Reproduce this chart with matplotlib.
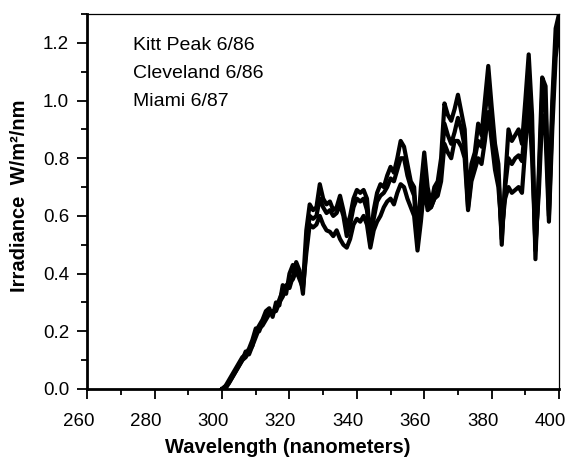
import numpy as np
import matplotlib
matplotlib.use("Agg")
import matplotlib.pyplot as plt
import matplotlib.transforms as mtransforms
from matplotlib.ticker import MultipleLocator

# longueurs d'onde (nm), pas de 1 nm
wl = list(range(300, 401))

kitt_peak = [
    0.00, 0.01, 0.02, 0.04, 0.06, 0.08, 0.10, 0.13, 0.12, 0.15,
    0.20, 0.22, 0.24, 0.27, 0.28, 0.25, 0.30, 0.29, 0.36, 0.33,
    0.40, 0.43, 0.42, 0.40, 0.36, 0.55, 0.64, 0.62, 0.63, 0.71,
    0.66, 0.64, 0.65, 0.62, 0.63, 0.67, 0.62, 0.56, 0.60, 0.66,
    0.69, 0.68, 0.69, 0.66, 0.52, 0.62, 0.68, 0.71, 0.70, 0.74,
    0.77, 0.75, 0.80, 0.86, 0.84, 0.78, 0.72, 0.70, 0.52, 0.70,
    0.82, 0.70, 0.64, 0.70, 0.72, 0.80, 0.99, 0.95, 0.93, 0.97,
    1.02, 0.96, 0.90, 0.65, 0.78, 0.82, 0.92, 0.88, 1.00, 1.12,
    0.98, 0.85, 0.78, 0.50, 0.72, 0.90, 0.86, 0.88, 0.90, 0.85,
    1.00, 1.16, 0.95, 0.45, 0.75, 1.08, 1.05, 0.62, 1.00, 1.25,
    1.30]

cleveland = [
    0.00, 0.01, 0.03, 0.05, 0.07, 0.09, 0.11, 0.12, 0.14, 0.17,
    0.21, 0.20, 0.23, 0.25, 0.27, 0.26, 0.28, 0.31, 0.34, 0.36,
    0.35, 0.39, 0.44, 0.41, 0.33, 0.50, 0.60, 0.59, 0.60, 0.66,
    0.63, 0.61, 0.62, 0.60, 0.61, 0.64, 0.60, 0.53, 0.57, 0.63,
    0.66, 0.65, 0.66, 0.62, 0.50, 0.59, 0.65, 0.67, 0.68, 0.70,
    0.73, 0.72, 0.76, 0.80, 0.80, 0.74, 0.70, 0.67, 0.50, 0.66,
    0.78, 0.66, 0.63, 0.66, 0.69, 0.76, 0.92, 0.88, 0.85, 0.89,
    0.94, 0.90, 0.84, 0.63, 0.74, 0.80, 0.86, 0.84, 0.95, 1.06,
    0.92, 0.80, 0.74, 0.52, 0.70, 0.80, 0.78, 0.80, 0.81, 0.79,
    0.92, 1.08, 0.88, 0.48, 0.72, 1.02, 0.98, 0.60, 0.95, 1.20,
    1.27]

miami = [
    0.00, 0.00, 0.02, 0.04, 0.06, 0.08, 0.10, 0.11, 0.13, 0.15,
    0.18, 0.21, 0.22, 0.24, 0.26, 0.27, 0.27, 0.30, 0.32, 0.35,
    0.37, 0.38, 0.41, 0.38, 0.35, 0.47, 0.57, 0.56, 0.57, 0.60,
    0.57, 0.55, 0.545, 0.53, 0.55, 0.52, 0.50, 0.49, 0.52, 0.57,
    0.59, 0.58, 0.60, 0.57, 0.49, 0.55, 0.58, 0.60, 0.63, 0.65,
    0.66, 0.64, 0.68, 0.71, 0.70, 0.66, 0.63, 0.60, 0.48, 0.58,
    0.70, 0.62, 0.63, 0.66, 0.67, 0.72, 0.85, 0.82, 0.80, 0.86,
    0.86, 0.84, 0.80, 0.62, 0.72, 0.76, 0.80, 0.78, 0.86, 0.96,
    0.86, 0.76, 0.70, 0.55, 0.66, 0.70, 0.68, 0.69, 0.70, 0.68,
    0.84, 1.00, 0.80, 0.50, 0.68, 0.95, 0.88, 0.58, 0.90, 1.15,
    1.25]

labels = ["Kitt Peak 6/86", "Cleveland 6/86", "Miami 6/87"]

plt.rcParams['font.family'] = ['Liberation Sans', 'DejaVu Sans']

fig = plt.figure(figsize=(5.68, 4.61), dpi=100)
ax = fig.add_axes([0.1537, 0.1562, 0.8305, 0.8134])

for serie in (kitt_peak, cleveland, miami):
    ax.plot(wl, serie, color='black', lw=3.0, solid_joinstyle='round')

ax.set_xlim(260, 400)
ax.set_ylim(0, 1.30)
ax.xaxis.set_major_locator(MultipleLocator(20))
ax.xaxis.set_minor_locator(MultipleLocator(10))
ax.yaxis.set_major_locator(MultipleLocator(0.2))
ax.yaxis.set_minor_locator(MultipleLocator(0.1))
ax.yaxis.set_major_formatter(plt.FormatStrFormatter('%.1f'))

ax.tick_params(axis='both', which='major', direction='out', length=7,
               width=1.3, labelsize=13.5)
ax.tick_params(axis='both', which='minor', direction='out', length=4,
               width=1.3)
ax.tick_params(axis='x', which='major', pad=10)
ax.tick_params(axis='y', which='major', pad=6)
ax.tick_params(top=False, right=False, which='both')

# les etiquettes x sont un peu decalees vers la gauche dans l'original
decal = mtransforms.ScaledTranslation(-0.09, 0, fig.dpi_scale_trans)
for lab in ax.get_xticklabels():
    lab.set_transform(lab.get_transform() + decal)

for s in ('left', 'bottom'):
    ax.spines[s].set_linewidth(2.0)
for s in ('top', 'right'):
    ax.spines[s].set_linewidth(0.9)

ax.set_xlabel('Wavelength (nanometers)', fontsize=14.5, fontweight='bold')
ax.xaxis.set_label_coords(0.4255, -0.13)
ax.set_ylabel('Irradiance  W/m²/nm', fontsize=14.5, fontweight='bold')
ax.yaxis.set_label_coords(-0.124, 0.515)

for i, txt in enumerate(labels):
    ax.text(0.096, 0.905 - i * 0.0747, txt, transform=ax.transAxes,
            fontsize=14, va='baseline', ha='left')

fig.savefig('out.png', dpi=100)
